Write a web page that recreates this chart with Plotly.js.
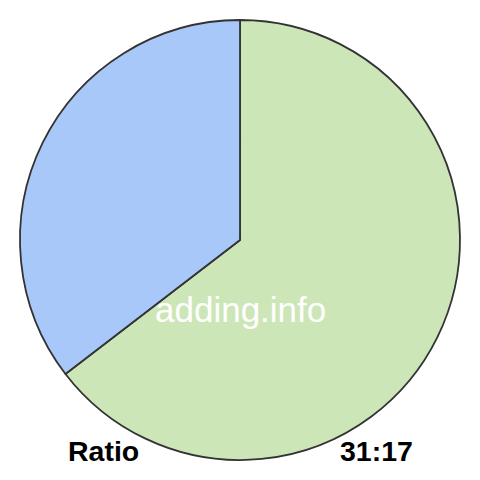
<!DOCTYPE html>
<html>
<head>
<meta charset="utf-8">
<script src="https://cdn.plot.ly/plotly-3.0.1.min.js"></script>
<style>html,body{margin:0;padding:0;background:#fff;}#chart{width:480px;height:480px;}</style>
</head>
<body>
<div id="chart"></div>
<script>
var labels = ["31", "17"];
var values = [31, 17];
var colors = ["#cde6b7", "#a8c8fa"];
var watermark = "adding.info";
var leftLabel = "Ratio";
var rightLabel = "31:17";

var data = [{
  type: "pie",
  labels: labels,
  values: values,
  sort: false,
  direction: "clockwise",
  rotation: 0,
  textinfo: "none",
  hoverinfo: "none",
  marker: {colors: colors, line: {color: "#333333", width: 1.8}},
  domain: {x: [20/480, 460/480], y: [20/480, 460/480]},
  showlegend: false
}];

var layout = {
  width: 480,
  height: 480,
  margin: {l: 0, r: 0, t: 0, b: 0},
  paper_bgcolor: "#ffffff",
  showlegend: false,
  annotations: [
    {text: watermark, x: 240/480, y: 1 - 309/480, xref: "paper", yref: "paper",
     showarrow: false, xanchor: "center", yanchor: "middle",
     font: {family: "Liberation Sans, Arial, sans-serif", size: 35, color: "#ffffff"}},
    {text: "<b>" + leftLabel + "</b>", x: 103.5/480, y: 1 - 451/480, xref: "paper", yref: "paper",
     showarrow: false, xanchor: "center", yanchor: "middle",
     font: {family: "Liberation Sans, Arial, sans-serif", size: 28.5, color: "#000000"}},
    {text: "<b>" + rightLabel + "</b>", x: 376/480, y: 1 - 451/480, xref: "paper", yref: "paper",
     showarrow: false, xanchor: "center", yanchor: "middle",
     font: {family: "Liberation Sans, Arial, sans-serif", size: 28.5, color: "#000000"}}
  ]
};

Plotly.newPlot("chart", data, layout, {displayModeBar: false, staticPlot: true});
</script>
</body>
</html>
